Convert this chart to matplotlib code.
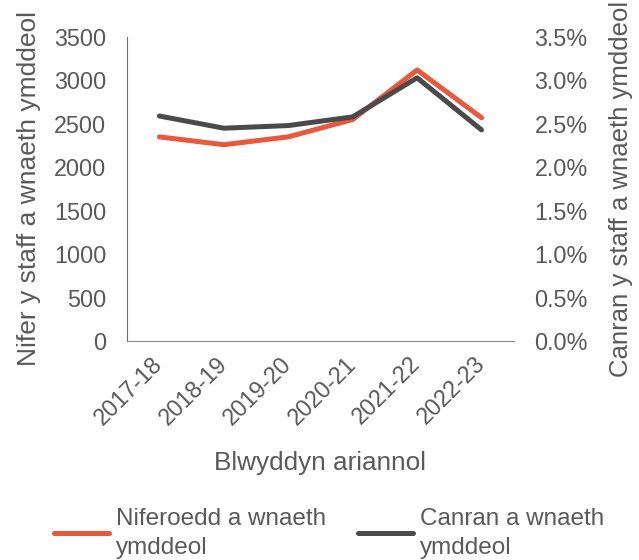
import numpy as np
import matplotlib.pyplot as plt
from matplotlib.ticker import FuncFormatter

plt.rcParams["font.family"] = ["Liberation Sans", "DejaVu Sans"]

# Financial years and retirement figures
years = ["2017-18", "2018-19", "2019-20", "2020-21", "2021-22", "2022-23"]
retired_count = [2350, 2260, 2350, 2550, 3120, 2570]
retired_pct = [2.59, 2.45, 2.48, 2.58, 3.03, 2.43]

red = "#E8583D"
dark = "#4A4A4A"
grey = "#595959"

fig = plt.figure(figsize=(6.39, 5.6), dpi=100)
ax = fig.add_axes([0.199, 0.391, 0.605, 0.543])
ax2 = ax.twinx()

x = np.arange(len(years))
l1, = ax.plot(x, retired_count, color=red, lw=3.6, solid_capstyle="round",
              label="Niferoedd a wnaeth\nymddeol")
l2, = ax2.plot(x, retired_pct, color=dark, lw=3.6, solid_capstyle="round",
               label="Canran a wnaeth\nymddeol")

ax.set_xlim(-0.5, 5.5)
ax.set_ylim(0, 3500)
ax.set_yticks(range(0, 3501, 500))
ax2.set_ylim(0, 3.5)
ax2.set_yticks(np.arange(0, 3.51, 0.5))
ax2.yaxis.set_major_formatter(FuncFormatter(lambda v, p: f"{v:.1f}%"))

ax.set_xticks(x)
ax.set_xticklabels(years, rotation=45, ha="right", va="center",
                   rotation_mode="anchor")

for a in (ax, ax2):
    for s in a.spines.values():
        s.set_visible(False)
    a.tick_params(length=0, labelsize=16.8, labelcolor=grey)
ax.spines["left"].set_visible(True)
ax.spines["left"].set_color("#6E6E6E")
ax.spines["bottom"].set_visible(True)
ax.spines["bottom"].set_color("#8C8C8C")
ax.tick_params(axis="y", pad=15)
ax.tick_params(axis="x", pad=14)
ax2.tick_params(axis="y", pad=15)

ax.set_ylabel("Nifer y staff a wnaeth ymddeol", fontsize=19, color=grey, labelpad=9)
ax2.set_ylabel("Canran y staff a wnaeth ymddeol", fontsize=18.5, color=grey, labelpad=15)
ax.set_xlabel("Blwyddyn ariannol", fontsize=18.8, color=grey, labelpad=16)

leg = fig.legend(handles=[l1, l2], loc="lower center", bbox_to_anchor=(0.515, -0.037),
                 ncol=2, frameon=False, fontsize=17.5, labelcolor=grey,
                 handlelength=2.26, columnspacing=1.3, handletextpad=0.3)
for t in leg.get_texts():
    t.set_linespacing(1.4)

fig.savefig("out.png", dpi=100)
